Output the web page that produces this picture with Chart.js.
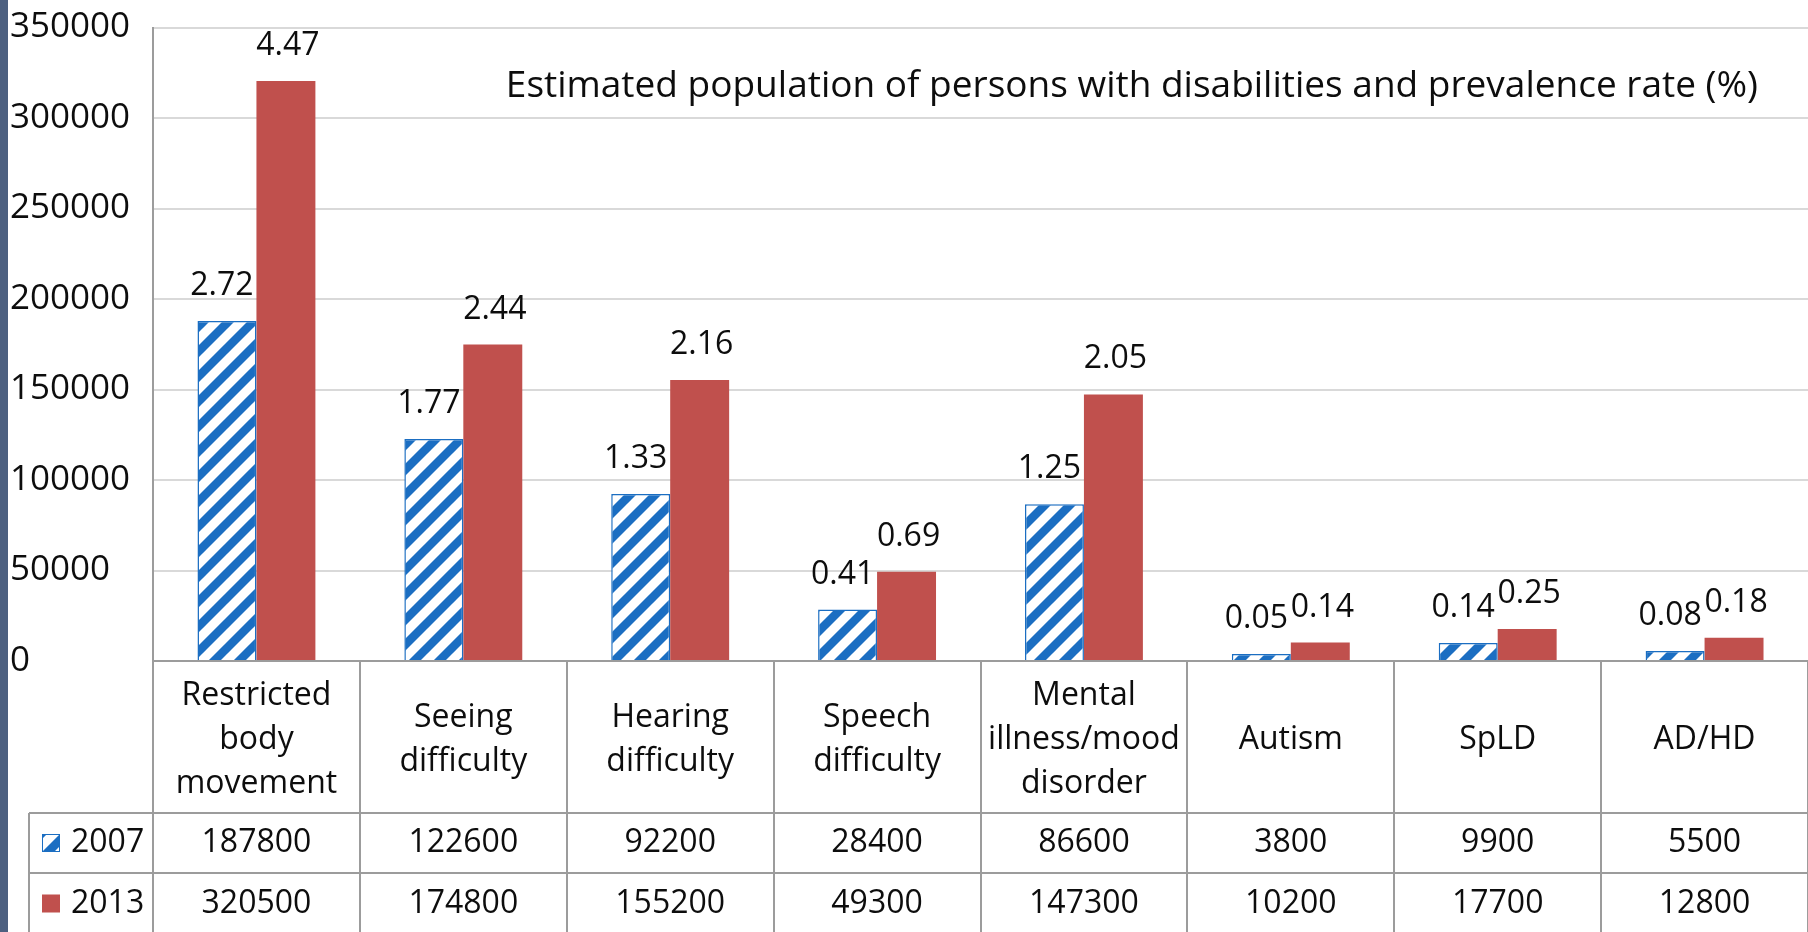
<!DOCTYPE html>
<html>
<head>
<meta charset="utf-8">
<script src="https://cdn.jsdelivr.net/npm/chart.js@4.4.0/dist/chart.umd.min.js"></script>
<style>
  html, body { margin: 0; padding: 0; background: #fff; }
  #wrap { position: relative; width: 1808px; height: 932px; }
</style>
</head>
<body>
<div id="wrap"><canvas id="c"></canvas></div>
<script>
// ---- data ----
const categories = [
  ["Restricted", "body", "movement"],
  ["Seeing", "difficulty"],
  ["Hearing", "difficulty"],
  ["Speech", "difficulty"],
  ["Mental", "illness/mood", "disorder"],
  "Autism",
  "SpLD",
  "AD/HD"
];
const seriesNames = ["2007", "2013"];
const values2007 = [187800, 122600, 92200, 28400, 86600, 3800, 9900, 5500];
const values2013 = [320500, 174800, 155200, 49300, 147300, 10200, 17700, 12800];
const rate2007 = ["2.72", "1.77", "1.33", "0.41", "1.25", "0.05", "0.14", "0.08"];
const rate2013 = ["4.47", "2.44", "2.16", "0.69", "2.05", "0.14", "0.25", "0.18"];
const yTicks = { min: 0, max: 350000, step: 50000 };
const titleText = "Estimated population of persons with disabilities and prevalence rate (%)";

// ---- styles ----
const FONT = "'Open Sans', 'Noto Sans', sans-serif";
const BLUE = "#1b6ec2";
const RED = "#c0504d";
const LINE = "#9c9c9c";
const TXT = "#0d0d0d";

function makeHatch() {
  const s = 25;
  const c = document.createElement('canvas');
  c.width = s; c.height = s;
  const g = c.getContext('2d');
  g.fillStyle = '#ffffff';
  g.fillRect(0, 0, s, s);
  g.strokeStyle = BLUE;
  g.lineWidth = 8.5;
  g.beginPath();
  g.moveTo(-s, s); g.lineTo(s, -s);
  g.moveTo(0, s * 2); g.lineTo(s * 2, 0);
  g.moveTo(-s / 2, s * 1.5); g.lineTo(s * 1.5, -s / 2);
  g.stroke();
  return g.createPattern(c, 'repeat');
}

const ctx = document.getElementById('c').getContext('2d');
const hatch = makeHatch();

const tablePlugin = {
  id: 'tablePlugin',
  beforeDraw(chart) {
    const g = chart.ctx;
    g.save();
    g.fillStyle = '#ffffff';
    g.fillRect(0, 0, chart.width, chart.height);
    g.fillStyle = '#4d6080';
    g.fillRect(0, 0, 8, chart.height);
    g.restore();
  },
  afterDraw(chart) {
    const g = chart.ctx;
    const xs = chart.scales.x;
    const area = chart.chartArea;
    const n = categories.length;
    const H = chart.height;
    const catBottom = area.bottom + 152;
    const row1Bottom = catBottom + 60;
    const tableLeft = 29;

    g.save();
    g.strokeStyle = LINE;
    g.lineWidth = 2;
    g.beginPath();
    for (let i = 0; i <= n; i++) {
      const x = Math.round(xs.getPixelForValue(i - 0.5));
      g.moveTo(x, area.bottom);
      g.lineTo(x, H);
    }
    g.moveTo(tableLeft, catBottom); g.lineTo(area.right, catBottom);
    g.moveTo(tableLeft, row1Bottom); g.lineTo(area.right, row1Bottom);
    g.moveTo(tableLeft, catBottom); g.lineTo(tableLeft, H);
    g.stroke();

    // legend keys + series names
    g.font = "32px " + FONT;
    g.fillStyle = TXT;
    g.textBaseline = 'middle';
    const rowsY = [(catBottom + row1Bottom) / 2, (row1Bottom + H) / 2 + 1];
    const keyFill = [hatch, RED];
    for (let r = 0; r < 2; r++) {
      const cy = rowsY[r];
      g.fillStyle = keyFill[r];
      g.fillRect(42, cy - 9, 18, 18);
      if (r === 0) { g.strokeStyle = BLUE; g.lineWidth = 1; g.strokeRect(42.5, cy - 8.5, 17, 17); }
      g.fillStyle = TXT;
      g.textAlign = 'left';
      g.fillText(seriesNames[r], 71, cy);
    }
    // values in table
    const rows = [values2007, values2013];
    g.textAlign = 'center';
    for (let r = 0; r < 2; r++) {
      for (let i = 0; i < n; i++) {
        g.fillText(String(rows[r][i]), xs.getPixelForValue(i), rowsY[r]);
      }
    }

    // prevalence-rate labels above bars
    const rates = [rate2007, rate2013];
    const nudge = [-5, 2];
    for (let d = 0; d < 2; d++) {
      const meta = chart.getDatasetMeta(d);
      meta.data.forEach((bar, i) => {
        g.fillText(rates[d][i], bar.x + nudge[d], bar.y - 35);
      });
    }

    // title inside plot
    g.font = "37px " + FONT;
    g.textAlign = 'right';
    g.textBaseline = 'alphabetic';
    g.fillText(titleText, area.right - 50, area.top + 69);
    g.restore();
  }
};

new Chart(ctx, {
  type: 'bar',
  data: {
    labels: categories,
    datasets: [
      {
        label: seriesNames[0],
        data: values2007,
        backgroundColor: hatch,
        borderColor: BLUE,
        borderWidth: 1.5,
        categoryPercentage: 0.57,
        barPercentage: 1.0
      },
      {
        label: seriesNames[1],
        data: values2013,
        backgroundColor: RED,
        borderWidth: 0,
        categoryPercentage: 0.57,
        barPercentage: 1.0
      }
    ]
  },
  options: {
    responsive: true,
    maintainAspectRatio: false,
    animation: false,
    devicePixelRatio: 1,
    layout: { padding: { top: 25, left: 10, right: 0, bottom: 0 } },
    plugins: {
      legend: { display: false },
      title: { display: false },
      tooltip: { enabled: false }
    },
    scales: {
      x: {
        offset: true,
        grid: { display: false, drawTicks: false },
        border: { display: true, color: LINE, width: 2 },
        ticks: {
          color: TXT,
          font: { family: FONT, size: 32, lineHeight: 1.375 },
          padding: 35,
          maxRotation: 0,
          minRotation: 0,
          autoSkip: false,
          crossAlign: 'center'
        },
        afterFit(scale) { scale.height = 271; }
      },
      y: {
        min: yTicks.min,
        max: yTicks.max,
        grid: { color: '#d9d9d9', lineWidth: 2, drawTicks: false },
        border: { display: true, color: LINE, width: 2 },
        ticks: {
          stepSize: yTicks.step,
          color: TXT,
          font: { family: FONT, size: 35, lineHeight: 1.0 },
          crossAlign: 'far',
          padding: 10,
          callback: (v) => String(v)
        },
        afterFit(scale) { scale.width = 143; }
      }
    }
  },
  plugins: [tablePlugin]
});
</script>
</body>
</html>
